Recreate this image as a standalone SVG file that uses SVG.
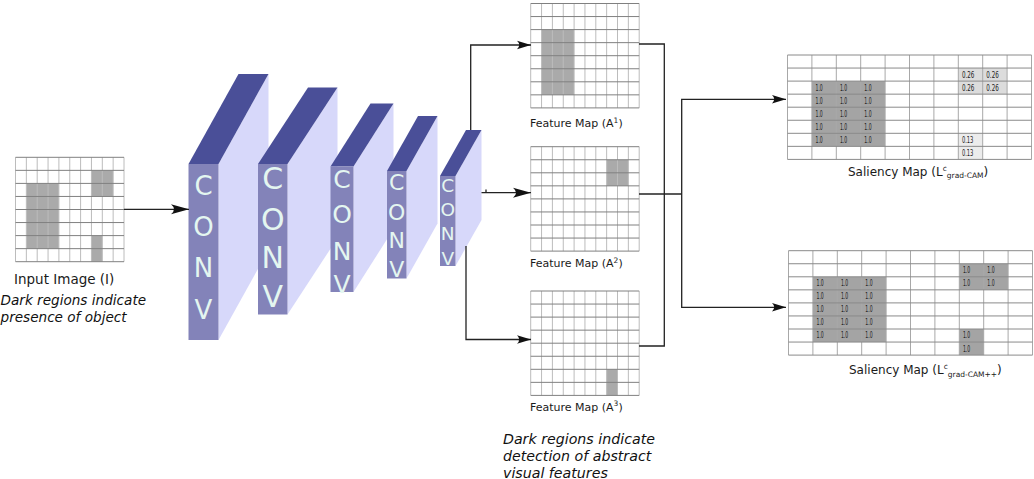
<svg xmlns="http://www.w3.org/2000/svg" xmlns:xlink="http://www.w3.org/1999/xlink" width="1034" height="479" viewBox="0 0 1034 479">
<style>
  .hl { stroke: #808080; stroke-width: 1; fill: none; }
  .vl { stroke: #bcbcbc; stroke-width: 1; fill: none; }
  .shl { stroke: #8a8a8a; stroke-width: 1; fill: none; }
  .svl { stroke: #a8a8a8; stroke-width: 1; fill: none; }
  .dark { fill: #aaaaaa; }
  .sdark { fill: #a4a4a4; }
  .s26 { fill: #dcdcdc; }
  .s13 { fill: #ececec; }
  .front { fill: #8383b9; }
  .top { fill: #4a4f98; }
  .side { fill: #d7d8fa; }
  .conv { font-family: "DejaVu Sans", sans-serif; fill: #e4f6f0; text-anchor: middle; }
  .lbl { font-family: "DejaVu Sans", sans-serif; fill: #1a1a1a; }
  .note { font-family: "DejaVu Sans", sans-serif; font-style: italic; fill: #111; }
  .num { font-family: "DejaVu Sans Condensed", "DejaVu Sans", sans-serif; font-size: 8px; fill: #222; }
  .wire { stroke: #222; stroke-width: 1.3; fill: none; }
</style>
<defs>
  <marker id="ahL" markerUnits="userSpaceOnUse" orient="auto" viewBox="-19 -6 20 12" refX="0" refY="0" markerWidth="20" markerHeight="12" overflow="visible">
    <path d="M0,0 L-18,-5 Q-12,0 -18,5 Z" fill="#111"/>
  </marker>
  <marker id="ahS" markerUnits="userSpaceOnUse" orient="auto" viewBox="-15 -5 16 10" refX="0" refY="0" markerWidth="16" markerHeight="10" overflow="visible">
    <path d="M0,0 L-14,-4.2 Q-9.5,0 -14,4.2 Z" fill="#111"/>
  </marker>
  <g id="gridA">
    <path class="vl" d="M0,0V104.4M10.85,0V104.4M21.7,0V104.4M32.55,0V104.4M43.4,0V104.4M54.25,0V104.4M65.1,0V104.4M75.95,0V104.4M86.8,0V104.4M97.65,0V104.4M108.5,0V104.4"/>
    <path class="hl" d="M0,0H108.5M0,13.05H108.5M0,26.1H108.5M0,39.15H108.5M0,52.2H108.5M0,65.25H108.5M0,78.3H108.5M0,91.35H108.5M0,104.4H108.5"/>
  </g>
  <g id="gridB">
    <path class="svl" d="M0,0V104.4M24.4,0V104.4M48.8,0V104.4M73.2,0V104.4M97.6,0V104.4M122,0V104.4M146.4,0V104.4M170.8,0V104.4M195.2,0V104.4M219.6,0V104.4M244,0V104.4"/>
    <path class="shl" d="M0,0H244M0,13.05H244M0,26.1H244M0,39.15H244M0,52.2H244M0,65.25H244M0,78.3H244M0,91.35H244M0,104.4H244"/>
  </g>
</defs>
<rect width="1034" height="479" fill="#ffffff"/>

<g id="input-image">
  <g transform="translate(15.5,157.3)">
    <rect class="dark" x="10.85" y="26.1" width="32.55" height="65.25"/>
    <rect class="dark" x="75.95" y="13.05" width="21.7" height="26.1"/>
    <rect class="dark" x="75.95" y="78.3" width="10.85" height="26.1"/>
    <use xlink:href="#gridA"/>
  </g>
  <text class="lbl" x="14" y="283.5" font-size="13.5">Input Image (I)</text>
  <text class="note" font-size="13.6"><tspan x="0.5" y="305">Dark regions indicate</tspan><tspan x="0.5" y="322">presence of object</tspan></text>
</g>

<g id="conv1">
  <polygon class="side" points="218.5,164 268.5,74 268.5,250 218.5,340"/>
  <polygon class="top" points="188.5,164 238.5,74 268.5,74 218.5,164"/>
  <rect class="front" x="188.5" y="164" width="30" height="176"/>
  <g class="conv" font-size="26"><text x="203.5" y="195">C</text><text x="203.5" y="235.5">O</text><text x="203.5" y="277">N</text><text x="203.5" y="318.5">V</text></g>
</g>
<g id="conv2">
  <polygon class="side" points="287.5,164 337.5,87.5 337.5,238 287.5,314.5"/>
  <polygon class="top" points="258,164 308,87.5 337.5,87.5 287.5,164"/>
  <rect class="front" x="258" y="164" width="29.5" height="150.5"/>
  <g class="conv" font-size="30"><text x="272.75" y="189">C</text><text x="272.75" y="230">O</text><text x="272.75" y="268.3">N</text><text x="272.75" y="306.7">V</text></g>
</g>
<g id="conv3">
  <polygon class="side" points="353.5,166.5 393.5,103.5 393.5,229 353.5,292"/>
  <polygon class="top" points="330.5,166.5 370.5,103.5 393.5,103.5 353.5,166.5"/>
  <rect class="front" x="330.5" y="166.5" width="23" height="125.5"/>
  <g class="conv" font-size="25"><text x="342" y="188.3">C</text><text x="342" y="223.3">O</text><text x="342" y="260">N</text><text x="342" y="293.3">V</text></g>
</g>
<g id="conv4">
  <polygon class="side" points="406.5,171 437.5,116 437.5,223.5 406.5,278.5"/>
  <polygon class="top" points="387,171 418,116 437.5,116 406.5,171"/>
  <rect class="front" x="387" y="171" width="19.5" height="107.5"/>
  <g class="conv" font-size="22"><text x="396.75" y="190">C</text><text x="396.75" y="219.5">O</text><text x="396.75" y="247.5">N</text><text x="396.75" y="276.5">V</text></g>
</g>
<g id="conv5">
  <polygon class="side" points="455.5,176 481.5,130 481.5,220 455.5,266"/>
  <polygon class="top" points="440,176 466,130 481.5,130 455.5,176"/>
  <rect class="front" x="440" y="176" width="15.5" height="90"/>
  <g class="conv" font-size="18.5"><text x="447.75" y="191.5">C</text><text x="447.75" y="215.5">O</text><text x="447.75" y="240">N</text><text x="447.75" y="265">V</text></g>
</g>

<g id="feature-map-1">
  <g transform="translate(530.7,3.5)">
    <rect class="dark" x="10.85" y="26.1" width="32.55" height="65.25"/>
    <use xlink:href="#gridA"/>
  </g>
  <text class="lbl" x="530" y="127" font-size="11">Feature Map (A<tspan font-size="7.5" dy="-4.5">1</tspan><tspan dy="4.5">)</tspan></text>
</g>
<g id="feature-map-2">
  <g transform="translate(530.7,146.7)">
    <rect class="dark" x="75.95" y="13.05" width="21.7" height="26.1"/>
    <use xlink:href="#gridA"/>
  </g>
  <text class="lbl" x="530" y="267" font-size="11">Feature Map (A<tspan font-size="7.5" dy="-4.5">2</tspan><tspan dy="4.5">)</tspan></text>
</g>
<g id="feature-map-3">
  <g transform="translate(530.7,291)">
    <rect class="dark" x="75.95" y="78.3" width="10.85" height="26.1"/>
    <use xlink:href="#gridA"/>
  </g>
  <text class="lbl" x="530" y="410.5" font-size="11">Feature Map (A<tspan font-size="7.5" dy="-4.5">3</tspan><tspan dy="4.5">)</tspan></text>
  <text class="note" font-size="14.2"><tspan x="503" y="444">Dark regions indicate</tspan><tspan x="503" y="461">detection of abstract</tspan><tspan x="503" y="477.5">visual features</tspan></text>
</g>

<g id="saliency-gradcam">
  <g transform="translate(787.5,55)">
    <rect class="sdark" x="24.4" y="26.1" width="73.2" height="65.25"/>
    <rect class="s26" x="170.8" y="13.05" width="48.8" height="26.1"/>
    <rect class="s13" x="170.8" y="78.3" width="24.4" height="26.1"/>
    <use xlink:href="#gridB"/>
    <g class="num">
      <text x="28" y="35.6" textLength="7.3" lengthAdjust="spacingAndGlyphs">1.0</text>
      <text x="52.4" y="35.6" textLength="7.3" lengthAdjust="spacingAndGlyphs">1.0</text>
      <text x="76.8" y="35.6" textLength="7.3" lengthAdjust="spacingAndGlyphs">1.0</text>
      <text x="28" y="48.65" textLength="7.3" lengthAdjust="spacingAndGlyphs">1.0</text>
      <text x="52.4" y="48.65" textLength="7.3" lengthAdjust="spacingAndGlyphs">1.0</text>
      <text x="76.8" y="48.65" textLength="7.3" lengthAdjust="spacingAndGlyphs">1.0</text>
      <text x="28" y="61.7" textLength="7.3" lengthAdjust="spacingAndGlyphs">1.0</text>
      <text x="52.4" y="61.7" textLength="7.3" lengthAdjust="spacingAndGlyphs">1.0</text>
      <text x="76.8" y="61.7" textLength="7.3" lengthAdjust="spacingAndGlyphs">1.0</text>
      <text x="28" y="74.75" textLength="7.3" lengthAdjust="spacingAndGlyphs">1.0</text>
      <text x="52.4" y="74.75" textLength="7.3" lengthAdjust="spacingAndGlyphs">1.0</text>
      <text x="76.8" y="74.75" textLength="7.3" lengthAdjust="spacingAndGlyphs">1.0</text>
      <text x="28" y="87.8" textLength="7.3" lengthAdjust="spacingAndGlyphs">1.0</text>
      <text x="52.4" y="87.8" textLength="7.3" lengthAdjust="spacingAndGlyphs">1.0</text>
      <text x="76.8" y="87.8" textLength="7.3" lengthAdjust="spacingAndGlyphs">1.0</text>
      <text x="174.4" y="22.55" textLength="12.5" lengthAdjust="spacingAndGlyphs">0.26</text>
      <text x="198.8" y="22.55" textLength="12.5" lengthAdjust="spacingAndGlyphs">0.26</text>
      <text x="174.4" y="35.6" textLength="12.5" lengthAdjust="spacingAndGlyphs">0.26</text>
      <text x="198.8" y="35.6" textLength="12.5" lengthAdjust="spacingAndGlyphs">0.26</text>
      <text x="174.4" y="87.8" textLength="11.5" lengthAdjust="spacingAndGlyphs">0.13</text>
      <text x="174.4" y="100.85" textLength="11.5" lengthAdjust="spacingAndGlyphs">0.13</text>
    </g>
  </g>
  <text class="lbl" x="848" y="175.7" font-size="12">Saliency Map (L<tspan font-size="7.5" dy="-5">c</tspan><tspan font-size="7.5" dy="7.5">grad-CAM</tspan><tspan dy="-2.5">)</tspan></text>
</g>

<g id="saliency-gradcampp">
  <g transform="translate(788.5,250.7)">
    <rect class="sdark" x="24.4" y="26.1" width="73.2" height="65.25"/>
    <rect class="sdark" x="170.8" y="13.05" width="48.8" height="26.1"/>
    <rect class="sdark" x="170.8" y="78.3" width="24.4" height="26.1"/>
    <use xlink:href="#gridB"/>
    <g class="num">
      <text x="28" y="35.6" textLength="7.3" lengthAdjust="spacingAndGlyphs">1.0</text>
      <text x="52.4" y="35.6" textLength="7.3" lengthAdjust="spacingAndGlyphs">1.0</text>
      <text x="76.8" y="35.6" textLength="7.3" lengthAdjust="spacingAndGlyphs">1.0</text>
      <text x="28" y="48.65" textLength="7.3" lengthAdjust="spacingAndGlyphs">1.0</text>
      <text x="52.4" y="48.65" textLength="7.3" lengthAdjust="spacingAndGlyphs">1.0</text>
      <text x="76.8" y="48.65" textLength="7.3" lengthAdjust="spacingAndGlyphs">1.0</text>
      <text x="28" y="61.7" textLength="7.3" lengthAdjust="spacingAndGlyphs">1.0</text>
      <text x="52.4" y="61.7" textLength="7.3" lengthAdjust="spacingAndGlyphs">1.0</text>
      <text x="76.8" y="61.7" textLength="7.3" lengthAdjust="spacingAndGlyphs">1.0</text>
      <text x="28" y="74.75" textLength="7.3" lengthAdjust="spacingAndGlyphs">1.0</text>
      <text x="52.4" y="74.75" textLength="7.3" lengthAdjust="spacingAndGlyphs">1.0</text>
      <text x="76.8" y="74.75" textLength="7.3" lengthAdjust="spacingAndGlyphs">1.0</text>
      <text x="28" y="87.8" textLength="7.3" lengthAdjust="spacingAndGlyphs">1.0</text>
      <text x="52.4" y="87.8" textLength="7.3" lengthAdjust="spacingAndGlyphs">1.0</text>
      <text x="76.8" y="87.8" textLength="7.3" lengthAdjust="spacingAndGlyphs">1.0</text>
      <text x="174.4" y="22.55" textLength="7.3" lengthAdjust="spacingAndGlyphs">1.0</text>
      <text x="198.8" y="22.55" textLength="7.3" lengthAdjust="spacingAndGlyphs">1.0</text>
      <text x="174.4" y="35.6" textLength="7.3" lengthAdjust="spacingAndGlyphs">1.0</text>
      <text x="198.8" y="35.6" textLength="7.3" lengthAdjust="spacingAndGlyphs">1.0</text>
      <text x="174.4" y="87.8" textLength="7.3" lengthAdjust="spacingAndGlyphs">1.0</text>
      <text x="174.4" y="100.85" textLength="7.3" lengthAdjust="spacingAndGlyphs">1.0</text>
    </g>
  </g>
  <text class="lbl" x="849" y="374" font-size="12">Saliency Map (L<tspan font-size="7.5" dy="-5">c</tspan><tspan font-size="7.5" dy="7.5">grad-CAM++</tspan><tspan dy="-2.5">)</tspan></text>
</g>

<g id="connectors">
  <path class="wire" d="M124,209.3H189" marker-end="url(#ahL)"/>
  <path class="wire" d="M470.7,130V45H531" marker-end="url(#ahS)"/>
  <path class="wire" d="M481.5,192.7H531" marker-end="url(#ahL)"/>
  <path class="wire" d="M486,189.5V192.7" stroke-width="1"/>
  <path class="wire" d="M466,246V339.5H531" marker-end="url(#ahS)"/>
  <path class="wire" d="M639,44H664.3V346H639"/>
  <path class="wire" d="M639,194H681.7"/>
  <path class="wire" d="M681.7,194V99.3H786" marker-end="url(#ahS)"/>
  <path class="wire" d="M681.7,194V307.3H786" marker-end="url(#ahS)"/>
</g>
</svg>
